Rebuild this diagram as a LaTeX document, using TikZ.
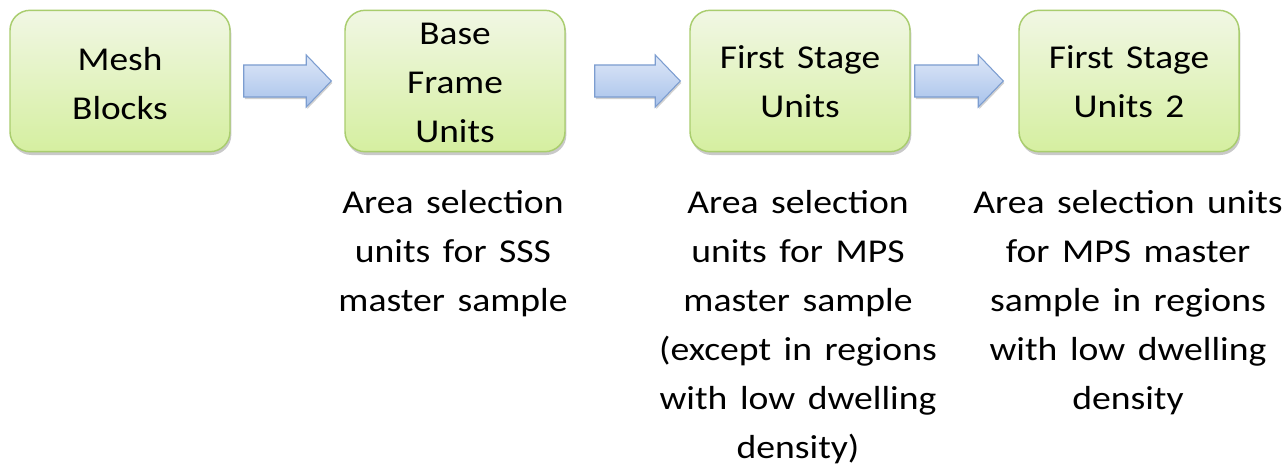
\documentclass[tikz,border=0pt]{standalone}
\usepackage{fontspec}
\setmainfont{Carlito}
\usetikzlibrary{shadows,calc}

\definecolor{boxtop}{HTML}{F1F7E4}
\definecolor{boxbot}{HTML}{D5EFA0}
\definecolor{boxline}{HTML}{A9CD6E}
\definecolor{arrtop}{HTML}{DDE7F7}
\definecolor{arrbot}{HTML}{A8C2EB}
\definecolor{arrline}{HTML}{7C9DD0}

\tikzset{
  stagebox/.style={draw=boxline, line width=1.1pt, rounded corners=15pt,
    top color=boxtop, bottom color=boxbot,
    minimum width=165pt, minimum height=106pt, inner sep=0pt,
    drop shadow={opacity=0.35, shadow xshift=1pt, shadow yshift=-2.5pt, fill=black!60}},
  boxtext/.style={anchor=base, align=center, text width=160pt,
    font=\fontsize{25}{36.75}\selectfont, xscale=1.12, transform shape},
  notetext/.style={anchor=base, align=center, text width=260pt,
    font=\fontsize{25}{36.75}\selectfont, xscale=1.13, transform shape},
  blockarrow/.style={draw=arrline, line width=0.8pt, line join=miter,
    top color=arrtop, bottom color=arrbot,
    drop shadow={opacity=0.3, shadow xshift=0.8pt, shadow yshift=-1.5pt, fill=black!60}}
}

% a horizontal block arrow from the east side of #1 to the west side of #2
\newcommand{\stagearrow}[4]{% #1 from node, #2 to node, #3 start gap, #4 end gap
  \coordinate (s) at ($(#1.east)+(#3,0)$);
  \coordinate (t) at ($(#2.west)+(-#4,0)$);
  \path[blockarrow]
    ($(s)+(0,-16)$) -- ($(t)+(-25,-16)$) -- ($(t)+(-25,-26)$) -- (t)
    -- ($(t)+(-25,26)$) -- ($(t)+(-25,16)$) -- ($(s)+(0,16)$) -- cycle;
}

\begin{document}
\begin{tikzpicture}[x=0.75pt, y=-0.75pt]
  \useasboundingbox[fill=white] (0,0) rectangle (1288,467);

  % stage boxes
  \node[stagebox] (b1) at (120,81) {};
  \node[stagebox] (b2) at (455,81) {};
  \node[stagebox] (b3) at (800,81) {};
  \node[stagebox] (b4) at (1129,81) {};

  % box labels
  \node[boxtext] (t1) at (120,70) {Mesh\\Blocks};
  \node[boxtext] (t2) at (455,45) {Base\\Frame\\Units};
  \node[boxtext] (t3) at (800,69) {First Stage\\Units};
  \node[boxtext] (t4) at (1129,69) {First Stage\\Units 2};

  % arrows between stages
  \stagearrow{b1}{b2}{13}{13}
  \stagearrow{b2}{b3}{29}{9}
  \stagearrow{b3}{b4}{4}{15}

  % notes under the boxes
  \node[notetext] (n2) at (453,213) {Area selection\\units for SSS\\master sample};
  \node[notetext] (n3) at (798,213) {Area selection\\units for MPS\\master sample\\(except in regions\\with low dwelling\\density)};
  \node[notetext] (n4) at (1128,213) {Area selection units\\for MPS master\\sample in regions\\with low dwelling\\density};
\end{tikzpicture}
\end{document}
